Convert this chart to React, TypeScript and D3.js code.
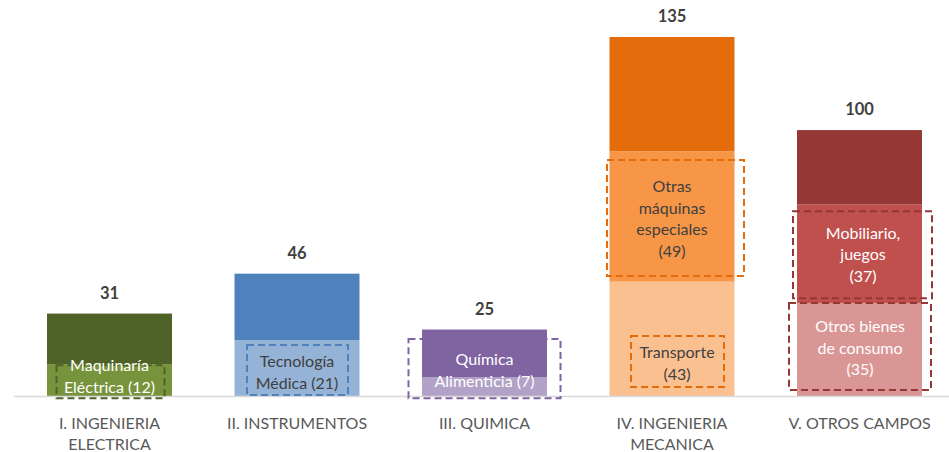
import React from 'react';
import * as d3 from 'd3';

// categories and stacked segment values (bottom -> top)
const categories = [
  ['I. INGENIERIA', 'ELECTRICA'],
  ['II. INSTRUMENTOS'],
  ['III. QUIMICA'],
  ['IV. INGENIERIA', 'MECANICA'],
  ['V. OTROS CAMPOS'],
];
const bottomValues = [12, 21, 7, 43, 35];
const middleValues = [0, 0, 0, 49, 37];
const topValues = [19, 25, 18, 43, 28];
const totalLabels = ['31', '46', '25', '135', '100'];

const bottomColors = ['#77933C', '#95B3D7', '#B3A2C7', '#FAC090', '#D99694'];
const middleColors = ['#77933C', '#95B3D7', '#B3A2C7', '#F79646', '#C0504D'];
const topColors = ['#4F6228', '#4F81BD', '#8064A2', '#E46C0A', '#953735'];

// annotation labels for the highlighted segments
const noteCategory = [0, 1, 2, 3, 3, 4, 4];
const noteLines = [
  ['Maquinaría', 'Eléctrica (12)'],
  ['Tecnología', 'Médica (21)'],
  ['Química', 'Alimenticia (7)'],
  ['Otras', 'máquinas', 'especiales', '(49)'],
  ['Transporte', '(43)'],
  ['Mobiliario,', 'juegos', '(37)'],
  ['Otros bienes', 'de consumo', '(35)'],
];

// layout of the annotations: text centre (dx px, y in value units), box (dx px, y in value units)
const noteLayout = [
  { tx: 0, ty: 7.7, x0: -53, x1: 55, y0: 11.6, y1: -0.8, text: '#FFFFFF', stroke: '#4F6228' },
  { tx: 0, ty: 9.2, x0: -50, x1: 51, y0: 19.2, y1: 0.4, text: '#404040', stroke: '#4F81BD' },
  { tx: 0, ty: 10, x0: -76, x1: 76, y0: 21.4, y1: -0.8, text: '#FFFFFF', stroke: '#8064A2' },
  { tx: 0, ty: 66.9, x0: -65, x1: 72, y0: 88.7, y1: 45.1, text: '#404040', stroke: '#E46C0A' },
  { tx: 5, ty: 12.6, x0: -41, x1: 52, y0: 22.6, y1: 3.4, text: '#404040', stroke: '#E46C0A' },
  { tx: 3.5, ty: 53.4, x0: -66.5, x1: 72.5, y0: 69.5, y1: 36.8, text: '#FFFFFF', stroke: '#953735' },
  { tx: 0.5, ty: 18.4, x0: -70.5, x1: 71.5, y0: 35, y1: 2.3, text: '#FFFFFF', stroke: '#953735' },
];

const W = 949;
const H = 452;
const FONT = 'Lato, "Open Sans", sans-serif';

const App = () => {
  const x = d3.scaleBand<number>()
    .domain(categories.map((_, i) => i))
    .range([15.75, 953.25])
    .paddingInner(1 / 3)
    .paddingOuter(1 / 6);

  const y = d3.scaleLinear().domain([0, 135]).range([396, 37]);

  const stack = d3.stack<number, string>()
    .keys(['bottom', 'middle', 'top'])
    .value((i, key) => key === 'bottom' ? bottomValues[i] : key === 'middle' ? middleValues[i] : topValues[i]);
  const series = stack(categories.map((_, i) => i));
  const colorSets = [bottomColors, middleColors, topColors];

  const lineH = 21.5;

  return (
    <svg width={W} height={H} style={{ position: 'fixed', left: 0, top: 0, background: '#fff' }} fontFamily={FONT}>
      {series.map((s, si) => (
        <g key={si}>
          {s.map((d, i) => {
            const h = y(d[0]) - y(d[1]);
            if (h <= 0) return null;
            return (
              <rect key={i} x={x(i)} width={x.bandwidth()} y={y(d[1])} height={h} fill={colorSets[si][i]} />
            );
          })}
        </g>
      ))}

      <line x1={14} x2={949} y1={y(0) + 0.5} y2={y(0) + 0.5} stroke="#D9D9D9" strokeWidth={1.5} />

      {totalLabels.map((t, i) => {
        const total = bottomValues[i] + middleValues[i] + topValues[i];
        return (
          <text key={i} x={x(i)! + x.bandwidth() / 2} y={y(total) - 21} textAnchor="middle"
            dominantBaseline="central" fontSize={16.5} fontWeight="bold" fill="#404040">{t}</text>
        );
      })}

      {categories.map((lines, i) => (
        <text key={i} textAnchor="middle" fontSize={16} fill="#595959">
          {lines.map((l, li) => (
            <tspan key={li} x={x(i)! + x.bandwidth() / 2} y={422 + li * 21.5} dominantBaseline="central">{l}</tspan>
          ))}
        </text>
      ))}

      {noteLines.map((lines, n) => {
        const c = noteCategory[n];
        const L = noteLayout[n];
        const cx = x(c)! + x.bandwidth() / 2;
        const cy = y(L.ty);
        const start = cy - ((lines.length - 1) * lineH) / 2;
        return (
          <g key={n}>
            <rect x={cx + L.x0} width={L.x1 - L.x0} y={y(L.y0)} height={y(L.y1) - y(L.y0)}
              fill="none" stroke={L.stroke} strokeWidth={2} strokeDasharray="7,4" />
            <text textAnchor="middle" fontSize={16} fill={L.text}>
              {lines.map((l, li) => (
                <tspan key={li} x={cx + L.tx} y={start + li * lineH} dominantBaseline="central">{l}</tspan>
              ))}
            </text>
          </g>
        );
      })}
    </svg>
  );
};

export default App;
